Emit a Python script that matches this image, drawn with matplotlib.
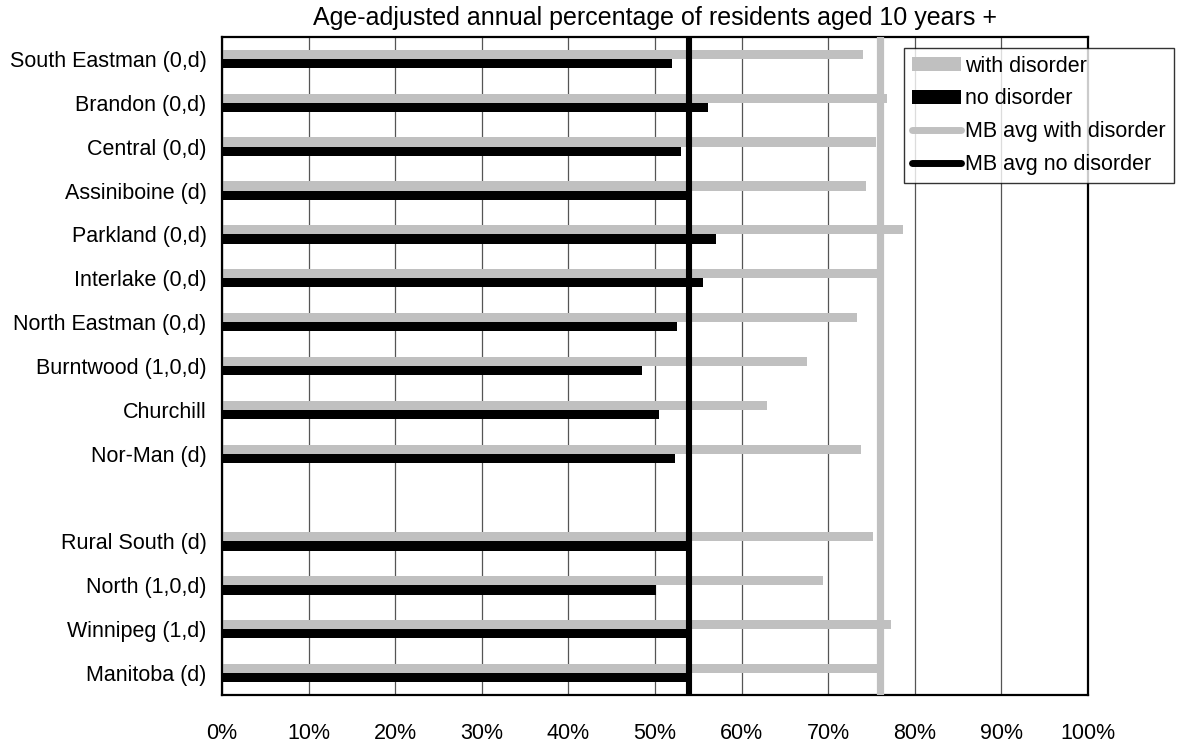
import numpy as np
import matplotlib
matplotlib.use('Agg')
import matplotlib.pyplot as plt
from matplotlib.patches import Patch
from matplotlib.lines import Line2D

plt.rcParams['font.family'] = ['Liberation Sans', 'DejaVu Sans']

# Regions, top to bottom ('' is the blank gap row)
regions = ['South Eastman (0,d)', 'Brandon (0,d)', 'Central (0,d)', 'Assiniboine (d)',
           'Parkland (0,d)', 'Interlake (0,d)', 'North Eastman (0,d)', 'Burntwood (1,0,d)',
           'Churchill', 'Nor-Man (d)', '', 'Rural South (d)', 'North (1,0,d)',
           'Winnipeg (1,d)', 'Manitoba (d)']
with_disorder = [74.0, 76.8, 75.5, 74.4, 78.6, 76.0, 73.3, 67.5, 62.9, 73.8,
                 np.nan, 75.2, 69.4, 77.3, 76.0]
no_disorder = [52.0, 56.1, 53.0, 54.3, 57.0, 55.5, 52.5, 48.5, 50.5, 52.3,
               np.nan, 53.7, 50.1, 53.8, 53.9]
mb_avg_with = 76.0
mb_avg_no = 53.9

title = 'Age-adjusted annual percentage of residents aged 10 years +'
xticks = np.arange(0, 101, 10)

grey = '#C0C0C0'
fs = 15.5

fig = plt.figure(figsize=(11.79, 7.48), dpi=100)
ax = fig.add_axes([222 / 1179, 1 - 695 / 748, 866 / 1179, 658 / 748])

y = np.arange(len(regions))
ax.barh(y - 0.105, with_disorder, height=0.21, color=grey, zorder=2)
ax.barh(y + 0.105, no_disorder, height=0.21, color='black', zorder=2)

# Manitoba average lines
ax.axvline(mb_avg_with, color=grey, lw=5.2, zorder=3)
ax.axvline(mb_avg_no, color='black', lw=4.4, zorder=3)

ax.set_xlim(0, 100)
ax.set_ylim(len(regions) - 0.5, -0.5)
ax.set_yticks(y)
ax.set_yticklabels(regions, fontsize=fs)
ax.set_xticks(xticks)
ax.set_xticklabels([f'{v}%' for v in xticks], fontsize=fs)
ax.tick_params(axis='both', length=0)
ax.tick_params(axis='y', pad=11)
ax.tick_params(axis='x', pad=20)
ax.xaxis.grid(True, color='#555555', lw=0.9, zorder=1)
ax.set_axisbelow(True)
for s in ax.spines.values():
    s.set_linewidth(1.6)
    s.set_color('black')

fig.text(655 / 1179, 1 - 18 / 748, title, ha='center', va='center', fontsize=18)

handles = [Patch(facecolor=grey, edgecolor='none'),
           Patch(facecolor='black', edgecolor='none'),
           Line2D([], [], color=grey, lw=5, solid_capstyle='round'),
           Line2D([], [], color='black', lw=5, solid_capstyle='round')]
labels = ['with disorder', 'no disorder', 'MB avg with disorder', 'MB avg no disorder']
leg = fig.legend(handles, labels, loc='upper left', bbox_to_anchor=(904 / 1179, 1 - 48 / 748),
                 fontsize=fs, frameon=True, fancybox=False, handlelength=2.3,
                 handleheight=0.65, handletextpad=0.2, labelspacing=0.55,
                 borderpad=0.35, borderaxespad=0)
leg.get_frame().set_edgecolor('black')
leg.get_frame().set_linewidth(1.0)

fig.savefig('out.png', dpi=100)
